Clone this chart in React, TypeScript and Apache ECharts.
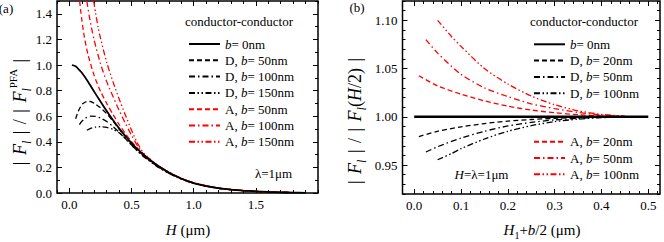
import React, { useEffect, useRef } from 'react';
import * as echarts from 'echarts';

const SERIF = '"Liberation Serif", "Times New Roman", serif';

// ---------------- Panel (a) data ----------------
const aB0 = [[0.02,1.0],[0.05,0.99],[0.08,0.96],[0.1,0.94],[0.15,0.87],[0.2,0.79],[0.25,0.715],[0.3,0.64],[0.35,0.57],[0.4,0.505],[0.45,0.445],[0.5,0.39],[0.55,0.34],[0.6,0.295],[0.7,0.22],[0.8,0.16],[0.9,0.113],[1.0,0.078],[1.1,0.054],[1.2,0.038],[1.3,0.027],[1.4,0.019],[1.5,0.013],[1.6,0.008],[1.7,0.005],[1.8,0.003],[1.9,0.0015]];
const aD50 = [[0.05,0.58],[0.07,0.635],[0.09,0.675],[0.11,0.70],[0.14,0.715],[0.17,0.715],[0.2,0.70],[0.25,0.665],[0.3,0.62],[0.35,0.562],[0.4,0.5],[0.45,0.44],[0.5,0.385],[0.55,0.335],[0.6,0.29],[0.7,0.216],[0.8,0.157],[0.9,0.111],[1.0,0.077],[1.2,0.037],[1.4,0.018],[1.6,0.008],[1.8,0.003]];
const aD100 = [[0.08,0.535],[0.1,0.56],[0.13,0.585],[0.17,0.6],[0.21,0.598],[0.25,0.585],[0.3,0.558],[0.35,0.52],[0.4,0.475],[0.45,0.425],[0.5,0.373],[0.55,0.327],[0.6,0.285],[0.7,0.213],[0.8,0.155],[0.9,0.11],[1.0,0.076],[1.2,0.037],[1.4,0.018],[1.6,0.008],[1.8,0.003]];
const aD150 = [[0.14,0.49],[0.17,0.505],[0.21,0.515],[0.25,0.518],[0.3,0.513],[0.35,0.498],[0.4,0.47],[0.45,0.425],[0.5,0.375],[0.55,0.325],[0.6,0.282],[0.7,0.21],[0.8,0.153],[0.9,0.109],[1.0,0.075],[1.2,0.036],[1.4,0.018],[1.6,0.008],[1.8,0.003]];
const aA50 = [[0.082,1.5],[0.09,1.43],[0.1,1.35],[0.12,1.22],[0.15,1.08],[0.2,0.915],[0.25,0.795],[0.3,0.70],[0.35,0.615],[0.4,0.535],[0.45,0.465],[0.5,0.402],[0.55,0.347],[0.6,0.298],[0.7,0.222],[0.8,0.161],[0.9,0.114],[1.0,0.079],[1.2,0.038],[1.4,0.019],[1.6,0.008],[1.8,0.003]];
const aA100 = [[0.14,1.5],[0.16,1.38],[0.18,1.28],[0.2,1.19],[0.25,1.01],[0.3,0.87],[0.35,0.755],[0.4,0.645],[0.45,0.545],[0.5,0.45],[0.55,0.365],[0.6,0.302],[0.7,0.223],[0.8,0.162],[0.9,0.114],[1.0,0.079],[1.2,0.038],[1.4,0.019],[1.6,0.008],[1.8,0.003]];
const aA150 = [[0.195,1.5],[0.21,1.41],[0.23,1.3],[0.25,1.21],[0.3,1.02],[0.35,0.87],[0.4,0.735],[0.45,0.61],[0.5,0.49],[0.55,0.385],[0.6,0.31],[0.7,0.225],[0.8,0.163],[0.9,0.115],[1.0,0.08],[1.2,0.038],[1.4,0.019],[1.6,0.008],[1.8,0.003]];

// ---------------- Panel (b) data ----------------
const bB0 = [[0.0,1.0],[0.5,1.0]];
const bD20 = [[0.01,0.9795],[0.05,0.985],[0.1,0.9895],[0.15,0.993],[0.2,0.9955],[0.25,0.9972],[0.3,0.9984],[0.35,0.9992],[0.4,0.9997],[0.45,1.0]];
const bD50 = [[0.025,0.9635],[0.05,0.969],[0.1,0.978],[0.15,0.985],[0.2,0.9905],[0.25,0.9942],[0.3,0.9968],[0.35,0.9984],[0.4,0.9994],[0.45,0.9999]];
const bD100 = [[0.05,0.9555],[0.08,0.962],[0.1,0.967],[0.15,0.977],[0.2,0.985],[0.25,0.9908],[0.3,0.995],[0.35,0.9976],[0.4,0.9991],[0.45,0.9998]];
const bA20 = [[0.01,1.0425],[0.05,1.032],[0.1,1.0235],[0.15,1.0165],[0.2,1.011],[0.25,1.007],[0.3,1.0042],[0.35,1.0022],[0.4,1.0009],[0.45,1.0002]];
const bA50 = [[0.025,1.08],[0.05,1.066],[0.1,1.044],[0.15,1.03],[0.2,1.021],[0.25,1.0135],[0.3,1.0085],[0.35,1.0045],[0.4,1.0018],[0.45,1.0004]];
const bA100 = [[0.05,1.1],[0.08,1.083],[0.1,1.073],[0.15,1.05],[0.2,1.034],[0.25,1.0215],[0.3,1.0125],[0.35,1.0062],[0.4,1.0025],[0.45,1.0006]];

// ---------------- Ticks ----------------
const aXLabels = [0, 0.5, 1.0, 1.5];
const aYLabels = [0, 0.2, 0.4, 0.6, 0.8, 1.0, 1.2, 1.4];
const bXLabels = [0, 0.1, 0.2, 0.3, 0.4, 0.5];
const bYLabels = [0.95, 1.0, 1.05, 1.1];

function steps(start: number, end: number, step: number): number[] {
  const out: number[] = [];
  const n = Math.round((end - start) / step);
  for (let i = 0; i <= n; i++) out.push(Math.round((start + i * step) * 1e6) / 1e6);
  return out;
}
const aXMinor = steps(-0.1, 2.0, 0.1);
const aYMinor = steps(0, 1.5, 0.1);
const bXMinor = steps(0, 0.52, 0.02);
const bYMinor = steps(0.92, 1.12, 0.01);

const legendLabels: Record<string, [string, string]> = {
  a0: ['', '= 0nm'],
  aD50: ['D, ', '= 50nm'],
  aD100: ['D, ', '= 100nm'],
  aD150: ['D, ', '= 150nm'],
  aA50: ['A, ', '= 50nm'],
  aA100: ['A, ', '= 100nm'],
  aA150: ['A, ', '= 150nm'],
  b0: ['', '= 0nm'],
  bD20: ['D, ', '= 20nm'],
  bD50: ['D, ', '= 50nm'],
  bD100: ['D, ', '= 100nm'],
  bA20: ['A, ', '= 20nm'],
  bA50: ['A, ', '= 50nm'],
  bA100: ['A, ', '= 100nm'],
};

const DASH = [5, 3];
const DASHDOT = [6, 3, 1.5, 3];
const DASHDOTDOT = [6, 2.5, 1.5, 2.5, 1.5, 2.5];

function axes(dim: 'x' | 'y', grid: number, min: number, max: number, labels: number[], minor: number[], digits: number) {
  const pos = dim === 'x' ? ['bottom', 'top'] : ['left', 'right'];
  const list: any[] = [];
  pos.forEach((p, pi) => {
    [true, false].forEach((isMajor) => {
      list.push({
        type: 'value',
        gridIndex: grid,
        position: p,
        min,
        max,
        axisLine: { show: false, onZero: false },
        splitLine: { show: false },
        axisTick: {
          show: true,
          inside: true,
          length: isMajor ? 5 : 3,
          lineStyle: { color: '#000', width: 1 },
          customValues: isMajor ? labels : minor,
        },
        axisLabel: {
          show: isMajor && pi === 0,
          customValues: labels,
          formatter: (v: number) => v.toFixed(digits),
          color: '#000',
          fontFamily: SERIF,
          fontSize: 13,
          margin: 5,
        },
      });
    });
  });
  return list;
}

function line(name: string, data: number[][], axisIdx: number, color: string, type: any, width: number, z = 2) {
  return {
    type: 'line',
    name,
    data,
    xAxisIndex: axisIdx,
    yAxisIndex: axisIdx,
    symbol: 'none',
    smooth: 0.25,
    lineStyle: { color, width, type },
    itemStyle: { color },
    emphasis: { disabled: true },
    silent: true,
    z,
  };
}

const richBase = {
  n: { fontFamily: SERIF, fontSize: 13, color: '#000', lineHeight: 16 },
  i: { fontFamily: SERIF, fontSize: 13, fontStyle: 'italic', color: '#000', lineHeight: 16 },
};

function legend(names: string[], left: number, top: number) {
  return {
    data: names,
    orient: 'vertical',
    left,
    top,
    padding: 0,
    itemWidth: 31,
    itemHeight: 8,
    itemGap: 0.3,
    selectedMode: false,
    itemStyle: { opacity: 0 },
    formatter: (name: string) => {
      const [pre, post] = legendLabels[name];
      return (pre ? `{n|${pre}}` : '') + `{i|b}{n|${post}}`;
    },
    textStyle: { fontFamily: SERIF, fontSize: 13, color: '#000', lineHeight: 16, rich: richBase },
  };
}

const titleRich = {
  n: { fontFamily: SERIF, fontSize: 15, color: '#000', lineHeight: 20, verticalAlign: 'middle' },
  i: { fontFamily: SERIF, fontSize: 15, fontStyle: 'italic', color: '#000', lineHeight: 20, verticalAlign: 'middle' },
  s: { fontFamily: SERIF, fontSize: 10, color: '#000', lineHeight: 10, verticalAlign: 'bottom' },
};

const yRich = {
  n: { fontFamily: SERIF, fontSize: 18, color: '#000', lineHeight: 26, verticalAlign: 'middle' },
  b: { fontFamily: SERIF, fontSize: 18, color: '#000', lineHeight: 26, verticalAlign: 'middle' },
  g: { fontFamily: SERIF, fontSize: 18, color: '#000', lineHeight: 26, verticalAlign: 'middle', padding: [0, 1] },
  i: { fontFamily: SERIF, fontSize: 18, fontStyle: 'italic', color: '#000', lineHeight: 26, verticalAlign: 'middle' },
  si: { fontFamily: SERIF, fontSize: 12, fontStyle: 'italic', color: '#000', lineHeight: 13, verticalAlign: 'bottom' },
  sp: { fontFamily: SERIF, fontSize: 11, color: '#000', lineHeight: 12, verticalAlign: 'top' },
};

function text(x: number, y: number, t: string, size = 13, rich?: any, rotation = 0) {
  return {
    type: 'text',
    x,
    y,
    rotation,
    silent: true,
    style: {
      text: t,
      fill: '#000',
      fontFamily: SERIF,
      fontSize: size,
      align: 'center',
      verticalAlign: 'middle',
      textAlign: 'center',
      textVerticalAlign: 'middle',
      rich,
    },
  };
}

const yTitleA = '{b||}{g| }{i|F}{si|l}{g| }{b||}{g| }{n|/}{g| }{b||}{g| }{i|F}{si|l}{sp|PFA}{g| }{b||}';
const yTitleB = '{b||}{g| }{i|F}{si|l}{g| }{b||}{g| }{n|/}{g| }{b||}{g| }{i|F}{si|l}{n|(}{i|H}{n|/2)}{g| }{b||}';

export default function App() {
  const ref = useRef<HTMLDivElement>(null);
  useEffect(() => {
    if (!ref.current) return;
    const chart = echarts.init(ref.current, null, { renderer: 'svg' });
    const gridStyle = { show: true, borderColor: '#000', borderWidth: 1.5, backgroundColor: 'transparent', containLabel: false, outerBoundsMode: 'none' };
    const xAxis = [
      ...axes('x', 0, -0.1, 2.0, aXLabels, aXMinor, 1),
      ...axes('x', 1, -0.025, 0.525, bXLabels, bXMinor, 1),
    ];
    const yAxis = [
      ...axes('y', 0, 0, 1.5, aYLabels, aYMinor, 1),
      ...axes('y', 1, 0.92, 1.12, bYLabels, bYMinor, 2),
    ];
    const RED = '#ff0000';
    const series = [
      line('aD50', aD50, 0, '#000', DASH, 1.3),
      line('aD100', aD100, 0, '#000', DASHDOT, 1.3),
      line('aD150', aD150, 0, '#000', DASHDOTDOT, 1.3),
      line('aA50', aA50, 0, RED, DASH, 1.3),
      line('aA100', aA100, 0, RED, DASHDOT, 1.3),
      line('aA150', aA150, 0, RED, DASHDOTDOT, 1.3),
      line('a0', aB0, 0, '#000', 'solid', 1.8, 3),
      line('bD20', bD20, 4, '#000', DASH, 1.3),
      line('bD50', bD50, 4, '#000', DASHDOT, 1.3),
      line('bD100', bD100, 4, '#000', DASHDOTDOT, 1.3),
      line('bA20', bA20, 4, RED, DASH, 1.3),
      line('bA50', bA50, 4, RED, DASHDOT, 1.3),
      line('bA100', bA100, 4, RED, DASHDOTDOT, 1.3),
      line('b0', bB0, 4, '#000', 'solid', 2.5, 3),
    ];
    chart.setOption({
      animation: false,
      backgroundColor: '#fff',
      grid: [
        { ...gridStyle, left: 57, top: 1, width: 261, height: 192 },
        { ...gridStyle, left: 402.5, top: 1, width: 257.5, height: 193 },
      ],
      xAxis,
      yAxis,
      series,
      legend: [
        legend(['a0', 'aD50', 'aD100', 'aD150', 'aA50', 'aA100', 'aA150'], 188, 36),
        legend(['b0', 'bD20', 'bD50', 'bD100'], 533, 36.3),
        legend(['bA20', 'bA50', 'bA100'], 533, 133.7),
      ],
      graphic: [
        text(6, 8, '(a)', 13),
        text(357, 7, '(b)', 13),
        text(239, 21, 'conductor-conductor', 13),
        text(584, 21, 'conductor-conductor', 13),
        text(273.5, 173, 'λ=1μm', 13),
        text(481.5, 174, '{i|H}{n|=λ=1μm}', 13, richBase),
        text(188, 230, '{i|H}{n| (μm)}', 15, titleRich),
        text(542, 230, '{i|H}{s|1}{n|+}{i|b}{n|/2 (μm)}', 15, titleRich),
        text(20, 112, yTitleA, 18, yRich, Math.PI / 2),
        text(355, 121, yTitleB, 18, yRich, Math.PI / 2),
      ],
    });
    return () => chart.dispose();
  }, []);
  return <div ref={ref} style={{ position: 'fixed', left: 0, top: 0, width: 664, height: 242 }} />;
}
